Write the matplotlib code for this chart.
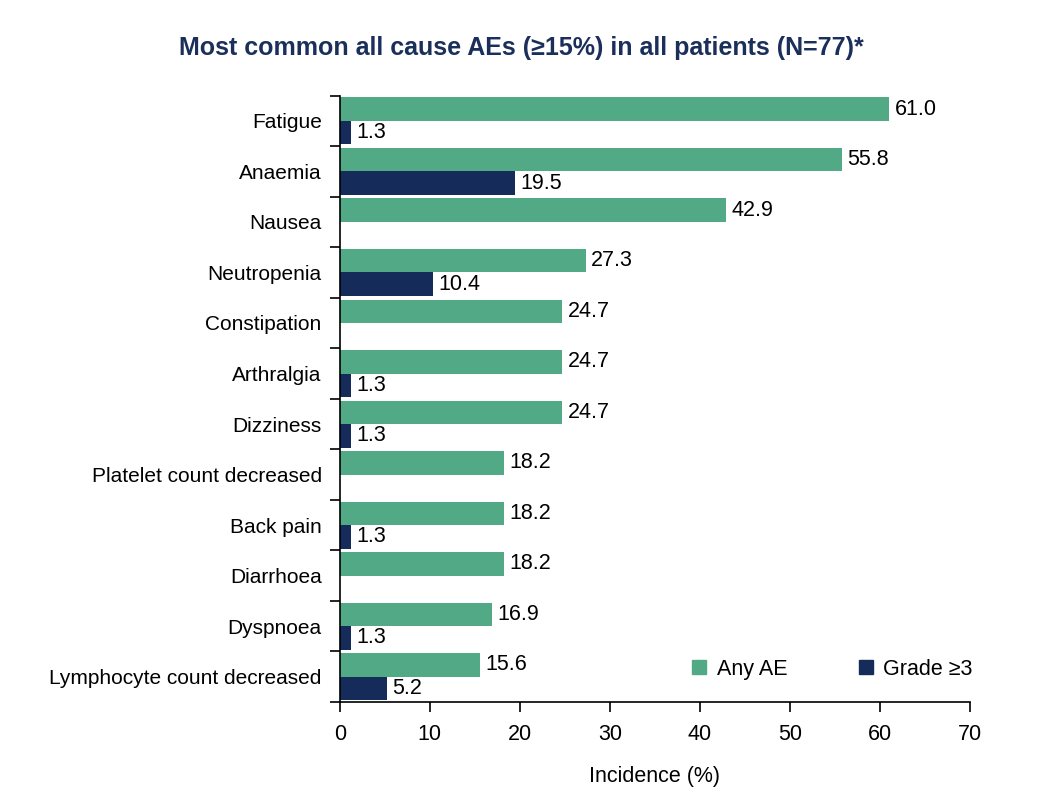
import numpy as np
import matplotlib
matplotlib.use("Agg")
import matplotlib.pyplot as plt
from matplotlib.patches import Patch

# Data
categories = ["Fatigue", "Anaemia", "Nausea", "Neutropenia", "Constipation",
              "Arthralgia", "Dizziness", "Platelet count decreased", "Back pain",
              "Diarrhoea", "Dyspnoea", "Lymphocyte count decreased"]
any_ae = [61.0, 55.8, 42.9, 27.3, 24.7, 24.7, 24.7, 18.2, 18.2, 18.2, 16.9, 15.6]
grade3 = [1.3, 19.5, 0, 10.4, 0, 1.3, 1.3, 0, 1.3, 0, 1.3, 5.2]

green = "#52a985"
navy = "#152c5b"

plt.rcParams['font.family'] = ['Liberation Sans', 'DejaVu Sans']

fig = plt.figure(figsize=(10.42, 8), dpi=100)
ax = fig.add_axes([0.326, 0.1225, 0.605, 0.758])

y = np.arange(len(categories))
h = 0.465
ax.barh(y - h / 2, any_ae, height=h, color=green, label="Any AE")
ax.barh(y + h / 2, grade3, height=h, color=navy, label="Grade \u22653")

for yi, v in zip(y, any_ae):
    ax.text(v + 0.6, yi - h / 2, f"{v:.1f}", va="center", ha="left", fontsize=15.5)
for yi, v in zip(y, grade3):
    if v > 0:
        ax.text(v + 0.6, yi + h / 2, f"{v:.1f}", va="center", ha="left", fontsize=15.5)

ax.set_ylim(len(categories) - 0.5, -0.5)
ax.set_xlim(0, 70)
ax.set_xticks(range(0, 71, 10))
ax.set_yticks(y)
ax.set_yticklabels(categories, fontsize=15)
ax.set_yticks(np.arange(-0.5, len(categories), 1), minor=True)
ax.tick_params(axis="y", which="major", length=0, pad=13)
ax.tick_params(axis="y", which="minor", length=7, width=1.2, direction="out")
ax.tick_params(axis="x", length=7, width=1.2, direction="out", labelsize=15.5, pad=9)

for s in ["top", "right"]:
    ax.spines[s].set_visible(False)
ax.spines["left"].set_linewidth(1.2)
ax.spines["bottom"].set_linewidth(1.2)

ax.set_xlabel("Incidence (%)", fontsize=15.5, labelpad=15)
fig.suptitle("Most common all cause AEs (\u226515%) in all patients (N=77)*",
             fontsize=18, fontweight="bold", color="#1b2f5b", x=0.5, y=0.955)

handles = [Patch(color=green, label="Any AE"), Patch(color=navy, label="Grade \u22653")]
ax.legend(handles=handles, ncol=2, loc="lower right", bbox_to_anchor=(1.035, 0.005),
          frameon=False, fontsize=15.5, handlelength=0.65, handleheight=0.65,
          columnspacing=3.3, handletextpad=0.5)

fig.savefig("out.png", dpi=100)
